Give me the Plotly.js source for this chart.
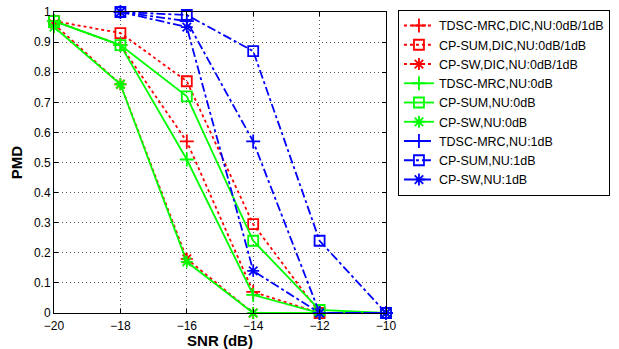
<!DOCTYPE html>
<html><head><meta charset="utf-8">
<script src="https://cdn.plot.ly/plotly-3.0.1.min.js"></script>
<style>html,body{margin:0;padding:0;background:#fff;}#chart{width:619px;height:349px;}</style>
</head><body><div id="chart"></div>
<script>
var snr = [-20, -18, -16, -14, -12, -10];
var snrBlue = [-18, -16, -14, -12, -10];
var tdscDic = [0.97, 0.89, 0.57, 0.07, 0, 0];
var cpsumDic = [0.97, 0.93, 0.77, 0.295, 0, 0];
var cpswDic = [0.96, 0.76, 0.18, 0, 0, 0];
var tdsc0 = [0.97, 0.89, 0.51, 0.06, 0, 0];
var cpsum0 = [0.97, 0.89, 0.72, 0.24, 0.01, 0];
var cpsw0 = [0.95, 0.76, 0.17, 0, 0, 0];
var tdsc1 = [1.0, 0.97, 0.57, 0, 0];
var cpsum1 = [1.0, 0.99, 0.87, 0.24, 0];
var cpsw1 = [1.0, 0.95, 0.14, 0, 0];
var names = ['TDSC-MRC,DIC,NU:0dB/1dB','CP-SUM,DIC,NU:0dB/1dB','CP-SW,DIC,NU:0dB/1dB',
  'TDSC-MRC,NU:0dB','CP-SUM,NU:0dB','CP-SW,NU:0dB',
  'TDSC-MRC,NU:1dB','CP-SUM,NU:1dB','CP-SW,NU:1dB'];

function tr(x, y, name, color, dash, sym) {
  return {x: x, y: y, name: name, type: 'scatter', mode: 'lines+markers',
    line: {color: color, width: 1.8, dash: dash},
    marker: {symbol: sym, size: 10, color: color, line: {color: color, width: 1.8}},
    cliponaxis: false};
}
var red = '#ff0000', green = '#00ff00', blue = '#0000ff';
var data = [
  tr(snr, tdscDic, names[0], red, 'dot', 'cross-thin-open'),
  tr(snr, cpsumDic, names[1], red, 'dot', 'square-open'),
  tr(snr, cpswDic, names[2], red, 'dot', 'asterisk-open'),
  tr(snr, tdsc0, names[3], green, 'solid', 'cross-thin-open'),
  tr(snr, cpsum0, names[4], green, 'solid', 'square-open'),
  tr(snr, cpsw0, names[5], green, 'solid', 'asterisk-open'),
  tr(snrBlue, tdsc1, names[6], blue, 'dashdot', 'cross-thin-open'),
  tr(snrBlue, cpsum1, names[7], blue, 'dashdot', 'square-open'),
  tr(snrBlue, cpsw1, names[8], blue, 'dashdot', 'asterisk-open')
];
var axisCommon = {
  showline: true, linecolor: '#000', linewidth: 1, mirror: 'ticks',
  ticks: 'inside', ticklen: 4, tickcolor: '#000',
  showgrid: true, gridcolor: '#555', griddash: '1px,3px', gridwidth: 1,
  zeroline: false, tickfont: {family: 'Liberation Sans, Arial, sans-serif', size: 12, color: '#000'}
};
var layout = {
  width: 619, height: 349,
  margin: {l: 54, r: 233, t: 12, b: 36, autoexpand: false},
  paper_bgcolor: '#fff', plot_bgcolor: '#fff',
  font: {family: 'Liberation Sans, Arial, sans-serif', color: '#000'},
  xaxis: Object.assign({}, axisCommon, {range: [-20, -10], dtick: 2, tick0: -20,
    ticklabelstandoff: 2,
    title: {text: '<b>SNR (dB)</b>', font: {size: 15}, standoff: 0}}),
  yaxis: Object.assign({}, axisCommon, {range: [0, 1], dtick: 0.1, tick0: 0,
    tickformat: '.1~f',
    title: {text: '<b>PMD</b>', font: {size: 15}, standoff: 7}}),
  showlegend: true,
  legend: {x: 1.036, y: 1.007, xanchor: 'left', yanchor: 'top',
    bordercolor: '#000', borderwidth: 1, bgcolor: '#fff',
    font: {size: 12.5, family: 'Liberation Sans, Arial, sans-serif'},
    tracegroupgap: 0, itemwidth: 30, maxheight: 320}
};
Plotly.newPlot('chart', data, layout, {staticPlot: true});
</script></body></html>
